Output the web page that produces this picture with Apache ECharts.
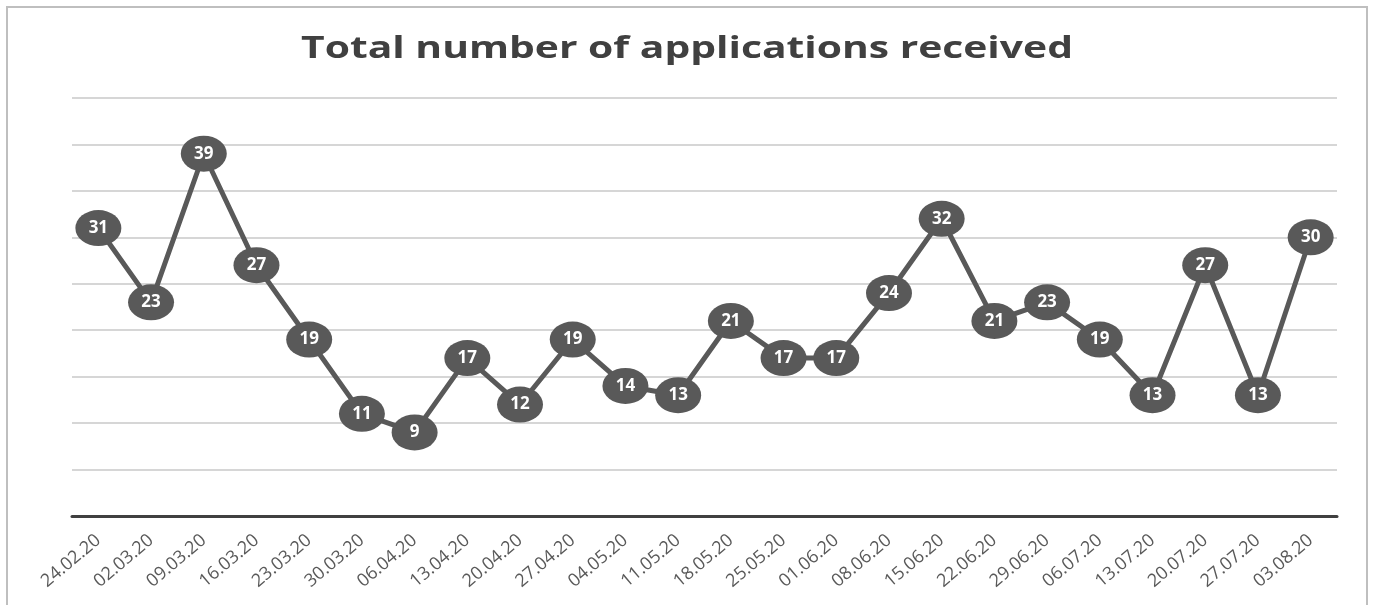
<!DOCTYPE html>
<html>
<head>
<meta charset="utf-8">
<script src="https://cdn.jsdelivr.net/npm/echarts@6/dist/echarts.min.js"></script>
<style>
html,body{margin:0;padding:0;background:#fff;}
#chart{width:1373px;height:605px;}
</style>
</head>
<body>
<div id="chart"></div>
<script>
const categories = ['24.02.20','02.03.20','09.03.20','16.03.20','23.03.20','30.03.20','06.04.20','13.04.20','20.04.20','27.04.20','04.05.20','11.05.20','18.05.20','25.05.20','01.06.20','08.06.20','15.06.20','22.06.20','29.06.20','06.07.20','13.07.20','20.07.20','27.07.20','03.08.20'];
const applications = [31,23,39,27,19,11,9,17,12,19,14,13,21,17,17,24,32,21,23,19,13,27,13,30];
const titleText = 'Total number of applications received';

const chart = echarts.init(document.getElementById('chart'));
chart.setOption({
  backgroundColor: '#ffffff',
  animation: false,
  graphic: [{
    type: 'rect',
    shape: { x: 7, y: 7, width: 1360, height: 640 },
    style: { fill: 'none', stroke: '#bfbfbf', lineWidth: 2 },
    silent: true,
    z: -1
  }, {
    type: 'text',
    x: 687,
    y: 49,
    scaleX: 1.36,
    scaleY: 1,
    silent: true,
    style: {
      text: titleText,
      fill: '#404040',
      font: 'bold 30px "Open Sans"',
      textAlign: 'center',
      textVerticalAlign: 'middle'
    }
  }],
  grid: { left: 72, right: 36, top: 98, bottom: 89 },
  xAxis: {
    type: 'category',
    data: categories,
    boundaryGap: true,
    axisLine: { lineStyle: { color: '#404040', width: 3 } },
    axisTick: { show: false },
    axisLabel: { rotate: 40, color: '#595959', fontFamily: 'Open Sans', fontSize: 18, margin: 22, interval: 0 }
  },
  yAxis: {
    type: 'value',
    min: 0, max: 45, interval: 5,
    axisLine: { show: false },
    axisTick: { show: false },
    axisLabel: { show: false },
    splitLine: { lineStyle: { color: '#c8c8c8', width: 1.5 } }
  },
  series: [{
    type: 'line',
    data: applications,
    lineStyle: { color: '#595959', width: 5 },
    itemStyle: { color: '#595959' },
    symbol: 'path://M0,50 A50,50 0 1 1 100,50 A50,50 0 1 1 0,50 Z',
    symbolKeepAspect: false,
    symbolSize: [46, 36],
    label: {
      show: true,
      position: 'inside',
      color: '#ffffff',
      fontFamily: 'Open Sans',
      fontWeight: 'bold',
      fontSize: 17
    }
  }]
});
</script>
</body>
</html>
